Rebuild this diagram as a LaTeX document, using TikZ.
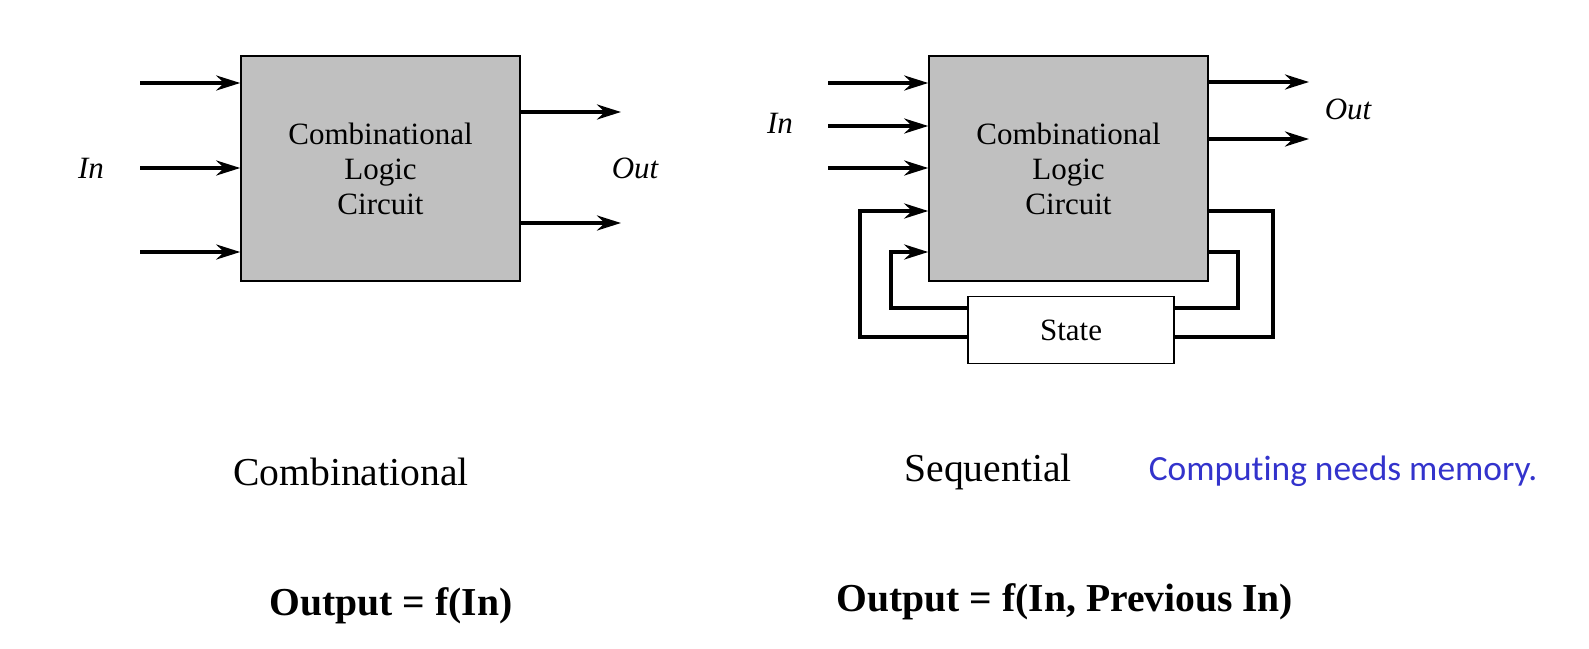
\documentclass[tikz,border=0pt]{standalone}
\usepackage{fontspec}
\setmainfont{Liberation Serif}
\newfontfamily\notefont[Ligatures = NoCommon]{Carlito}
\usetikzlibrary{positioning, arrows.meta}
\definecolor{logicgray}{RGB}{192,192,192}
\definecolor{noteblue}{RGB}{51,51,204}
\tikzstyle{logic} = [
    rectangle,
    draw,
    fill = logicgray,
    line width = 0.75pt,
    align = center,
    font = \fontsize{15.5}{17.5}\selectfont,
    minimum width = 139.5pt,
    minimum height = 112.5pt
]
\tikzstyle{state} = [
    rectangle,
    draw,
    fill = white,
    line width = 0.75pt,
    font = \fontsize{15.5}{17.5}\selectfont,
    minimum width = 103pt,
    minimum height = 33.5pt
]
\tikzstyle{port} = [
    font = \fontsize{15.5}{17.5}\selectfont\itshape
]
\tikzstyle{caption} = [
    font = \fontsize{19.8}{24}\selectfont
]
\tikzstyle{formula} = [
    font = \fontsize{19.8}{24}\selectfont\bfseries
]
\tikzstyle{sig} = [
    line width = 1.8pt,
    -{Stealth[length = 12pt, width = 7.5pt]}
]
\tikzstyle{wire} = [
    line width = 2.1pt
]
\tikzstyle{fb} = [
    line width = 2.1pt,
    -{Stealth[length = 12pt, width = 7.5pt]}
]

\begin{document}
\begin{tikzpicture}[x = 0.5pt, y = -0.5pt]

                \useasboundingbox (0,0) rectangle (1589,648);

                % Combinational
                \node [logic] (clc1) at (380.5,168.5) {Combinational\\Logic\\Circuit};

                \coordinate (cin1) at (140,83);
                \coordinate (cin2) at (140,168);
                \coordinate (cin3) at (140,252);
                \coordinate (cout1) at (621,112);
                \coordinate (cout2) at (621,223);

                \draw [sig] (cin1) -- (cin1 -| clc1.west);
                \draw [sig] (cin2) -- (cin2 -| clc1.west);
                \draw [sig] (cin3) -- (cin3 -| clc1.west);
                \draw [sig] (clc1.east |- cout1) -- (cout1);
                \draw [sig] (clc1.east |- cout2) -- (cout2);

                \node [port] (in1) at (91,168) {In};
                \node [port] (out1) at (635,168) {Out};

                % Sequential
                \node [logic] (clc2) at (1068.5,168.5) {Combinational\\Logic\\Circuit};
                \node [state, below = 7pt of clc2, xshift = 1.25pt] (state) {State};

                \coordinate (sin1) at (828,83);
                \coordinate (sin2) at (828,126);
                \coordinate (sin3) at (828,168);
                \coordinate (sout1) at (1309,82);
                \coordinate (sout2) at (1309,139);

                \draw [sig] (sin1) -- (sin1 -| clc2.west);
                \draw [sig] (sin2) -- (sin2 -| clc2.west);
                \draw [sig] (sin3) -- (sin3 -| clc2.west);
                \draw [sig] (clc2.east |- sout1) -- (sout1);
                \draw [sig] (clc2.east |- sout2) -- (sout2);

                % feedback through State
                \coordinate (outerL) at (860,211);
                \coordinate (outerR) at (1273,337);
                \coordinate (innerL) at (891,252);
                \coordinate (innerR) at (1238,308);

                \draw [wire] (clc2.east |- outerL) -| (outerR) -- (outerR -| state.east);
                \draw [fb] (outerR -| state.west) -| (outerL) -- (outerL -| clc2.west);
                \draw [wire] (clc2.east |- innerL) -| (innerR) -- (innerR -| state.east);
                \draw [fb] (innerR -| state.west) -| (innerL) -- (innerL -| clc2.west);

                \node [port] (in2) at (780,123) {In};
                \node [port] (out2) at (1348,109) {Out};

                % captions
                \node [caption] (combCap) at (351,472) {Combinational};
                \node [caption] (seqCap) at (988,472) {Sequential};
                \node [font = \fontsize{17.7}{21}\notefont, text = noteblue] (note) at (1343,471) {Computing needs memory.};

                \node [formula] (combF) at (391,606) {Output = f(In)};
                \node [formula] (seqF) at (1065,602) {Output = f(In, Previous In)};

            \end{tikzpicture}
\end{document}
